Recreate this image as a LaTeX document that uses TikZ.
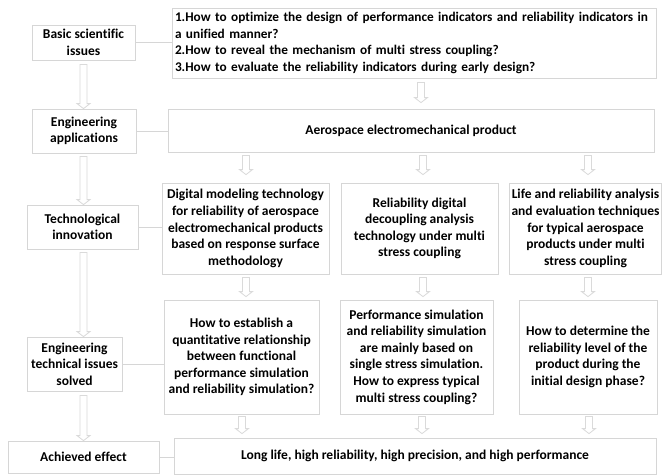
\documentclass[tikz,border=0pt]{standalone}
\usepackage{fontspec}
\setmainfont{Carlito}[Ligatures=CommonOff]
\usetikzlibrary{calc}
\definecolor{frameline}{HTML}{D6D6D6}
\definecolor{arrowline}{HTML}{DADADA}
\tikzset{
  box/.style={draw=frameline, line width=0.8pt, fill=white, align=center,
    inner xsep=1pt, inner ysep=2pt, font=\fontsize{13.5}{16.6}\selectfont\bfseries},
  link/.style={draw=frameline, line width=0.8pt},
  hollow/.style={draw=arrowline, line width=0.8pt, fill=white, line join=miter},
}
% hollow block arrow pointing down: x, upper node anchor, lower node anchor,
% gap below the upper box, gap above the lower box
\newcommand{\hollowdown}[5]{%
  \draw[hollow] let \p1=(#2), \p2=(#3) in
    (#1pt-3.5pt,\y1-#4pt) -- (#1pt+3.5pt,\y1-#4pt) -- (#1pt+3.5pt,\y2+#5pt+5pt)
    -- (#1pt+6.5pt,\y2+#5pt+5pt) -- (#1pt,\y2+#5pt) -- (#1pt-6.5pt,\y2+#5pt+5pt)
    -- (#1pt-3.5pt,\y2+#5pt+5pt) -- cycle;}
\begin{document}
\begin{tikzpicture}[x=1pt, y=-1pt]
\useasboundingbox (0,0) rectangle (662,475);
\fill[white] (0,0) rectangle (662,475);

% left column: categories
\node[box, minimum width=103pt, minimum height=35pt] (basic) at (83.5,42.5) {Basic scientific\\issues};
\node[box, minimum width=104pt, minimum height=44pt] (engapp) at (84,131) {Engineering\\applications};
\node[box, minimum width=111pt, minimum height=44pt] (tech) at (82.5,227) {Technological\\innovation};
\node[box, minimum width=95pt, minimum height=54pt] (engtech) at (74.5,364) {Engineering\\technical issues\\solved};
\node[box, minimum width=151pt, minimum height=32pt] (achieved) at (83.5,457) {Achieved effect};

% right side: contents
\node[box, minimum width=484pt, minimum height=70pt, text width=478pt, inner xsep=3pt, align=left,
      font=\fontsize{13.3}{16.6}\selectfont\bfseries] (quest) at (414,43)
  {\mbox{1.How to optimize the design of performance indicators and reliability indicators in}\\a unified manner?\\2.How to reveal the mechanism of multi stress coupling?\\3.How to evaluate the reliability indicators during early design?};
\node[box, minimum width=486pt, minimum height=43pt] (aero) at (411,130.5) {Aerospace electromechanical product};

\node[box, minimum width=167pt, minimum height=91pt] (digi) at (245.5,228.5)
  {Digital modeling technology\\for reliability of aerospace\\electromechanical products\\based on response surface\\methodology};
\node[box, minimum width=157pt, minimum height=91pt] (reld) at (419.5,228.5)
  {Reliability digital\\decoupling analysis\\technology under multi\\stress coupling};
\node[box, minimum width=152pt, minimum height=91pt] (life) at (585.5,228.5)
  {Life and reliability analysis\\and evaluation techniques\\for typical aerospace\\products under multi\\stress coupling};

\node[box, minimum width=155pt, minimum height=114pt] (estab) at (241.5,357)
  {How to establish a\\quantitative relationship\\between functional\\performance simulation\\and reliability simulation?};
\node[box, minimum width=153pt, minimum height=114pt] (perf) at (416.5,357)
  {Performance simulation\\and reliability simulation\\are mainly based on\\single stress simulation.\\How to express typical\\multi stress coupling?};
\node[box, minimum width=138pt, minimum height=114pt] (determ) at (588,357)
  {How to determine the\\reliability level of the\\product during the\\initial design phase?};

\node[box, minimum width=482pt, minimum height=36pt] (long) at (415,456)
  {Long life, high reliability, high precision, and high performance};

% horizontal links
\draw[link] (basic.east) -- (basic.east -| quest.west);
\draw[link] (engapp.east) -- (engapp.east -| aero.west);
\draw[link] (tech.east) -- (tech.east -| digi.west);
\draw[link] (engtech.east) -- (engtech.east -| estab.west);
\draw[link] (achieved.east) -- (achieved.east -| long.west);

% left column arrows
\hollowdown{83.5}{basic.south}{engapp.north}{4}{0}
\hollowdown{83.5}{engapp.south}{tech.north}{3}{0}
\hollowdown{83.5}{tech.south}{engtech.north}{3}{0}
\hollowdown{83.5}{engtech.south}{achieved.north}{4}{0}

% right side arrows
\hollowdown{421}{quest.south}{aero.north}{4}{6}
\hollowdown{246}{aero.south}{digi.north}{3}{8}
\hollowdown{423}{aero.south}{reld.north}{3}{8}
\hollowdown{588}{aero.south}{life.north}{3}{8}
\hollowdown{246}{digi.south}{estab.north}{3}{3}
\hollowdown{423}{reld.south}{perf.north}{3}{3}
\hollowdown{588}{life.south}{determ.north}{3}{3}
\hollowdown{242}{estab.south}{long.north}{2}{4}
\hollowdown{422}{perf.south}{long.north}{2}{4}
\hollowdown{589}{determ.south}{long.north}{2}{4}
\end{tikzpicture}
\end{document}
